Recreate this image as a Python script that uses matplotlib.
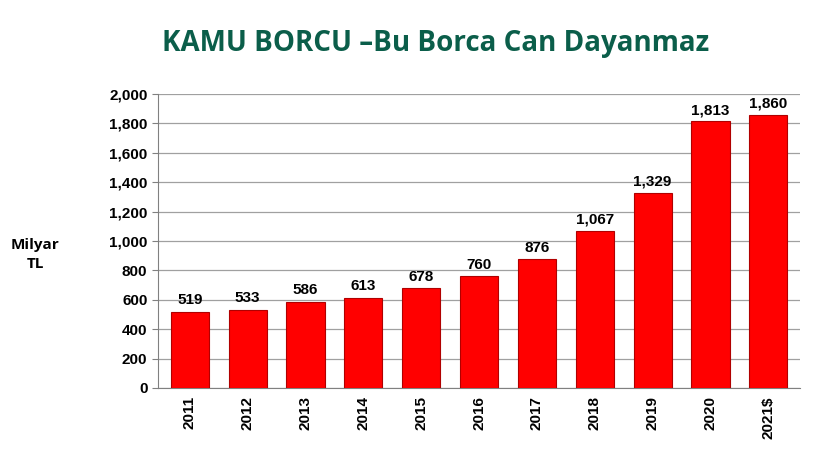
import matplotlib.pyplot as plt

years = ['2011', '2012', '2013', '2014', '2015', '2016', '2017', '2018', '2019', '2020', '2021$']
debt = [519, 533, 586, 613, 678, 760, 876, 1067, 1329, 1813, 1860]

fig = plt.figure(figsize=(8.14, 4.63), dpi=100)
ax = fig.add_axes([0.194, 0.162, 0.789, 0.635])

x = range(len(years))
ax.bar(x, debt, width=0.66, color='#FF0000', edgecolor='#B00000', linewidth=0.8, zorder=3)
for i, v in zip(x, debt):
    ax.text(i, v + 30, f'{v:,}', ha='center', va='bottom', fontsize=11,
            fontweight='bold', family='Liberation Sans')

ax.set_ylim(0, 2000)
ax.set_xlim(-0.55, len(years) - 0.45)
ax.set_yticks(range(0, 2001, 200))
ax.set_yticklabels([f'{t:,}' for t in range(0, 2001, 200)], fontsize=11,
                   fontweight='bold', family='Liberation Sans')
ax.set_xticks(list(x))
ax.set_xticklabels(years, rotation=90, fontsize=11, fontweight='bold', family='Liberation Sans')
ax.grid(axis='y', color='#A0A0A0', linewidth=0.9, zorder=0)
for s in ['top', 'right']:
    ax.spines[s].set_visible(False)
ax.spines['left'].set_color('#808080')
ax.spines['bottom'].set_color('#808080')
ax.tick_params(axis='x', length=0, pad=6)
ax.tick_params(axis='y', length=4, color='#808080')

fig.text(0.535, 0.905, 'KAMU BORCU \u2013Bu Borca Can Dayanmaz', ha='center', va='center',
         fontsize=20, fontweight='bold', color='#0B5E4A', family='Open Sans')
fig.text(0.043, 0.45, 'Milyar\nTL', ha='center', va='center', fontsize=11,
         fontweight='bold', family='Open Sans', linespacing=1.4)

fig.savefig('out.png', dpi=100, facecolor='white')
